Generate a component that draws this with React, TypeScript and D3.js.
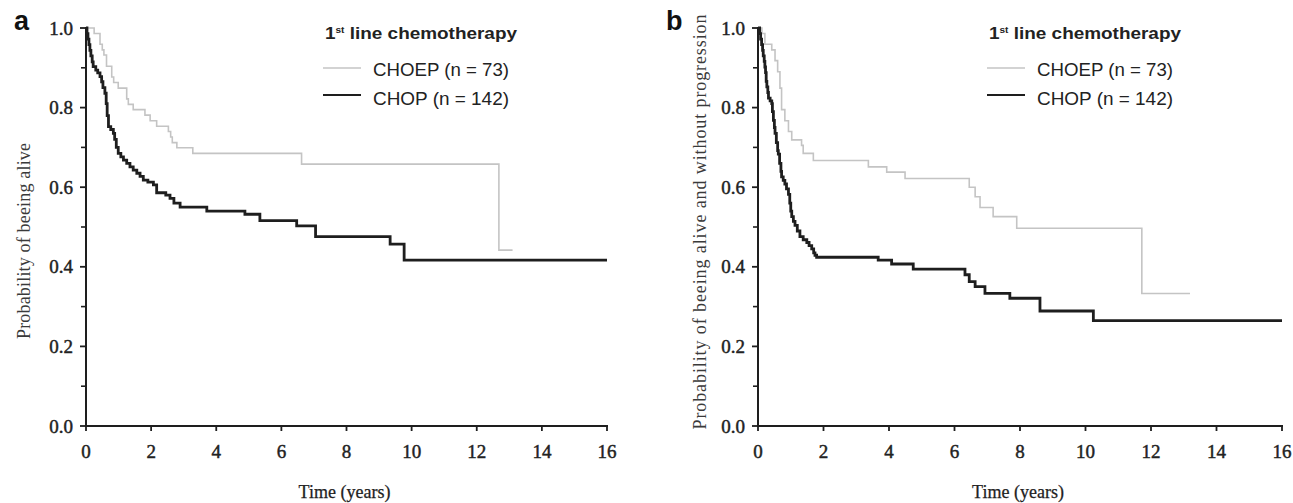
import React from "react";
import * as d3 from "d3";

// ---- data (time in years, survival probability after the step) ----
const xTicks = [0, 2, 4, 6, 8, 10, 12, 14, 16];
const yMajorTicks = [0, 0.2, 0.4, 0.6, 0.8, 1.0];
const yMinorTicks = [0.1, 0.3, 0.5, 0.7, 0.9];

const legendTitle = "line chemotherapy";
const seriesNames = ["CHOEP (n = 73)", "CHOP (n = 142)"];

// Panel a: overall survival
const aChoep: [number, number][] = [
  [0, 1], [0.25, 0.986], [0.43, 0.959], [0.5, 0.945], [0.55, 0.932], [0.63, 0.904],
  [0.79, 0.877], [0.85, 0.863], [0.99, 0.849], [1.25, 0.822], [1.3, 0.808], [1.45, 0.795],
  [1.81, 0.781], [1.97, 0.767], [2.17, 0.753], [2.53, 0.74], [2.6, 0.726], [2.65, 0.712],
  [2.79, 0.699], [3.28, 0.685], [6.62, 0.658], [12.68, 0.442], [13.1, 0.442],
];
const aChop: [number, number][] = [
  [0, 1], [0.03, 0.986], [0.06, 0.972], [0.09, 0.958], [0.12, 0.944], [0.15, 0.93],
  [0.19, 0.915], [0.22, 0.903], [0.3, 0.894], [0.36, 0.887], [0.43, 0.878], [0.48, 0.865],
  [0.52, 0.85], [0.58, 0.836], [0.62, 0.81], [0.65, 0.78], [0.69, 0.752], [0.76, 0.745],
  [0.84, 0.735], [0.88, 0.72], [0.93, 0.7], [0.99, 0.685], [1.07, 0.676], [1.15, 0.668],
  [1.25, 0.66], [1.35, 0.651], [1.45, 0.643], [1.56, 0.635], [1.66, 0.627], [1.76, 0.618],
  [1.9, 0.613], [2.07, 0.606], [2.17, 0.586], [2.45, 0.58], [2.58, 0.572], [2.7, 0.56],
  [2.89, 0.55], [3.71, 0.54], [4.88, 0.532], [5.34, 0.516], [6.47, 0.503], [7.05, 0.476],
  [9.34, 0.457], [9.77, 0.417], [16, 0.417],
];

// Panel b: progression-free survival
const bChoep: [number, number][] = [
  [0, 1], [0.12, 0.986], [0.21, 0.959], [0.42, 0.945], [0.52, 0.918], [0.6, 0.89],
  [0.67, 0.849], [0.72, 0.795], [0.82, 0.767], [0.93, 0.74], [1.03, 0.719], [1.33, 0.705],
  [1.38, 0.685], [1.69, 0.667], [3.37, 0.651], [3.93, 0.638], [4.49, 0.622], [6.45, 0.6],
  [6.63, 0.576], [6.78, 0.549], [7.18, 0.526], [7.9, 0.497], [11.72, 0.333], [13.19, 0.333],
];
const bChop: [number, number][] = [
  [0, 1], [0.05, 0.986], [0.08, 0.972], [0.11, 0.958], [0.14, 0.944], [0.16, 0.93],
  [0.19, 0.916], [0.21, 0.902], [0.23, 0.888], [0.25, 0.866], [0.27, 0.852], [0.3, 0.838],
  [0.32, 0.824], [0.37, 0.817], [0.42, 0.81], [0.44, 0.79], [0.47, 0.768], [0.5, 0.75],
  [0.52, 0.735], [0.56, 0.712], [0.6, 0.692], [0.62, 0.683], [0.66, 0.66], [0.7, 0.64],
  [0.72, 0.626], [0.77, 0.617], [0.82, 0.608], [0.87, 0.596], [0.93, 0.582], [0.97, 0.56],
  [1.0, 0.54], [1.03, 0.526], [1.08, 0.514], [1.13, 0.504], [1.2, 0.49], [1.28, 0.476],
  [1.38, 0.468], [1.49, 0.461], [1.56, 0.453], [1.64, 0.445], [1.7, 0.435], [1.74, 0.429],
  [1.79, 0.424], [3.67, 0.417], [4.08, 0.407], [4.74, 0.394], [6.32, 0.38], [6.45, 0.363],
  [6.63, 0.35], [6.93, 0.333], [7.69, 0.321], [8.61, 0.289], [10.24, 0.265], [16, 0.265],
];

const SERIF = "'Liberation Serif', 'Times New Roman', serif";
const SANS = "'Liberation Sans', Arial, sans-serif";
const INK = "#1e1e1e";
const GREY = "#c4c4c4";

type PanelProps = {
  letter: string;
  x0: number;
  x1: number;
  yLabel: string;
  yLabelX: number;
  yLabelY: number;
  yLabelLen: number;
  choep: [number, number][];
  chop: [number, number][];
  legendX: number;
  letterX: number;
};

const yScale = d3.scaleLinear().domain([0, 1]).range([426, 28]);

function Panel(p: PanelProps) {
  const x = d3.scaleLinear().domain([0, 16]).range([p.x0, p.x1]);
  const line = d3
    .line<[number, number]>()
    .x((d) => x(d[0]))
    .y((d) => yScale(d[1]))
    .curve(d3.curveStepAfter);
  const fmt = d3.format(".1f");
  const ax = x(0);
  const ay = yScale(0);
  const lx = p.legendX;
  return (
    <g>
      <text x={p.letterX} y={30} fontFamily={SANS} fontWeight="bold" fontSize={27} fill="#111">
        {p.letter}
      </text>
      {/* curves */}
      <path d={line(p.choep) || ""} fill="none" stroke={GREY} strokeWidth={1.6} />
      <path d={line(p.chop) || ""} fill="none" stroke={INK} strokeWidth={2.8} />
      {/* axes */}
      <line x1={ax} x2={ax} y1={yScale(1) - 1} y2={ay + 1} stroke={INK} strokeWidth={2} />
      <line x1={ax - 1} x2={x(16) + 1} y1={ay} y2={ay} stroke={INK} strokeWidth={2} />
      {xTicks.map((t) => (
        <g key={"xt" + t}>
          <line x1={x(t)} x2={x(t)} y1={ay} y2={ay + 5} stroke={INK} strokeWidth={1.8} />
          <text
            x={x(t)}
            y={458}
            textAnchor="middle"
            fontFamily={SERIF}
            fontSize={19}
            fill="#222"
            stroke="#222"
            strokeWidth={0.45}
          >
            {t}
          </text>
        </g>
      ))}
      {yMajorTicks.map((v) => (
        <g key={"ym" + v}>
          <line x1={ax - 6} x2={ax} y1={yScale(v)} y2={yScale(v)} stroke={INK} strokeWidth={1.8} />
          <text
            x={ax - 13}
            y={yScale(v)}
            dy="0.35em"
            textAnchor="end"
            fontFamily={SERIF}
            fontSize={19}
            fill="#222"
            stroke="#222"
            strokeWidth={0.45}
          >
            {fmt(v)}
          </text>
        </g>
      ))}
      {yMinorTicks.map((v) => (
        <line key={"yn" + v} x1={ax - 5} x2={ax} y1={yScale(v)} y2={yScale(v)} stroke={INK} strokeWidth={1.6} />
      ))}
      <text
        x={(x(0) + x(16)) / 2 - 2}
        y={498}
        textAnchor="middle"
        fontFamily={SERIF}
        fontSize={18}
        fill="#222"
        stroke="#222"
        strokeWidth={0.25}
      >
        Time (years)
      </text>
      <text
        transform={`translate(${p.yLabelX},${p.yLabelY}) rotate(-90)`}
        textAnchor="middle"
        dy="0.35em"
        fontFamily={SERIF}
        fontSize={18}
        fill="#3a3a3a"
        textLength={p.yLabelLen}
        lengthAdjust="spacing"
      >
        {p.yLabel}
      </text>
      {/* legend */}
      <text
        x={lx + 2}
        y={39}
        fontFamily={SANS}
        fontWeight="bold"
        fontSize={17}
        fill="#222"
        textLength={192}
        lengthAdjust="spacingAndGlyphs"
      >
        1
        <tspan fontSize={9} dy={-6}>st</tspan>
        <tspan dy={6}> {legendTitle}</tspan>
      </text>
      <line x1={lx} x2={lx + 38} y1={68} y2={68} stroke={GREY} strokeWidth={1.5} />
      <line x1={lx} x2={lx + 38} y1={95} y2={95} stroke={INK} strokeWidth={2.2} />
      <text x={lx + 50} y={76} fontFamily={SANS} fontSize={18} fill="#222" textLength={136} lengthAdjust="spacingAndGlyphs">
        {seriesNames[0]}
      </text>
      <text x={lx + 50} y={105} fontFamily={SANS} fontSize={18} fill="#222" textLength={136} lengthAdjust="spacingAndGlyphs">
        {seriesNames[1]}
      </text>
    </g>
  );
}

export default function App() {
  return (
    <div style={{ position: "absolute", left: 0, top: 0, background: "#fff" }}>
      <svg width={1293} height={503} viewBox="0 0 1293 503" style={{ display: "block" }}>
        <rect width={1293} height={503} fill="#fff" />
        <Panel
          letter="a"
          letterX={14}
          x0={86}
          x1={607}
          yLabel="Probability of beeing alive"
          yLabelX={24}
          yLabelY={241}
          yLabelLen={196}
          choep={aChoep}
          chop={aChop}
          legendX={323}
        />
        <Panel
          letter="b"
          letterX={666}
          x0={758}
          x1={1282}
          yLabel="Probability of beeing alive and without progression"
          yLabelX={700}
          yLabelY={222}
          yLabelLen={415}
          choep={bChoep}
          chop={bChop}
          legendX={987}
        />
      </svg>
    </div>
  );
}
